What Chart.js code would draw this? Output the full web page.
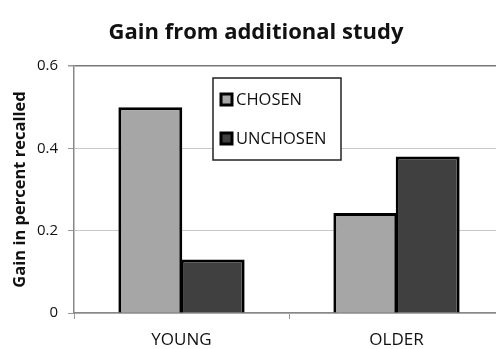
<!DOCTYPE html>
<html><head><meta charset="utf-8">
<script src="https://cdn.jsdelivr.net/npm/chart.js@4/dist/chart.umd.min.js"></script>
<style>html,body{margin:0;padding:0;background:#fff;overflow:hidden;width:496px;height:349px}#wrap{width:504px;height:349px}</style>
</head><body><div id="wrap"><canvas id="c" width="504" height="349"></canvas></div>
<script>
const categories = ["YOUNG", "OLDER"];
const chosenValues = [0.50, 0.243];
const unchosenValues = [0.13, 0.38];
const seriesNames = ["CHOSEN", "UNCHOSEN"];
const yTicks = [0, 0.2, 0.4, 0.6];
const titleText = "Gain from additional study";
const yTitle = "Gain in percent recalled";

const FONT = "'Open Sans', 'Liberation Sans', sans-serif";

const legendBox = {
  id: 'legendBox',
  afterDatasetsDraw(chart) {
    const ctx = chart.ctx;
    const x0 = 213, y0 = 78, w = 128, h = 82;
    ctx.save();
    ctx.fillStyle = '#fff';
    ctx.fillRect(x0, y0, w, h);
    ctx.strokeStyle = '#222';
    ctx.lineWidth = 1.5;
    ctx.strokeRect(x0, y0, w, h);
    chart.data.datasets.forEach((ds, i) => {
      const cy = y0 + 21 + i * 39;
      ctx.fillStyle = ds.backgroundColor;
      ctx.fillRect(x0 + 8, cy - 5, 11, 11);
      ctx.strokeStyle = '#000';
      ctx.lineWidth = 3;
      ctx.strokeRect(x0 + 8, cy - 5, 11, 11);
      ctx.fillStyle = '#111';
      ctx.font = "16.5px " + FONT;
      ctx.textBaseline = 'middle';
      ctx.textAlign = 'left';
      ctx.fillText(ds.label, x0 + 23, cy + 1);
    });
    ctx.restore();
  }
};

new Chart(document.getElementById('c'), {
  type: 'bar',
  data: {
    labels: categories,
    datasets: [
      { label: seriesNames[0], data: chosenValues, backgroundColor: '#a6a6a6', borderColor: '#000', borderWidth: 3, borderSkipped: 'bottom' },
      { label: seriesNames[1], data: unchosenValues, backgroundColor: '#404040', borderColor: '#000', borderWidth: 3, borderSkipped: 'bottom' }
    ]
  },
  options: {
    responsive: false,
    animation: false,
    layout: { padding: { left: 8, right: 0, top: 0, bottom: 0 } },
    datasets: { bar: { categoryPercentage: 0.58, barPercentage: 1.025 } },
    plugins: {
      legend: { display: false },
      tooltip: { enabled: false },
      title: {
        display: true, text: titleText, color: '#111',
        font: { family: FONT, size: 22, weight: 'bold' },
        padding: { top: 20, bottom: 19.6 }
      }
    },
    scales: {
      x: {
        offset: true,
        grid: { display: true, drawOnChartArea: false, drawTicks: true, tickLength: 6, offset: true, color: '#999' },
        border: { display: true, color: '#888', width: 1.5 },
        ticks: { color: '#111', font: { family: FONT, size: 17 }, padding: 11 },
        afterFit(s) { s.height = 36; }
      },
      y: {
        min: 0, max: 0.6,
        afterBuildTicks(s) { s.ticks = yTicks.map(v => ({ value: v })); },
        grid: {
          color: (c) => (c.tick && c.tick.value === 0.6) ? '#777' : '#c8c8c8',
          lineWidth: (c) => (c.tick && c.tick.value === 0.6) ? 1.5 : 1,
          tickLength: 6, tickColor: '#999'
        },
        border: { display: true, color: '#888', width: 1.5 },
        ticks: { color: '#111', font: { family: FONT, size: 15 }, padding: 10, callback: (v) => String(v) },
        title: {
          display: true, text: yTitle, color: '#111',
          font: { family: FONT, size: 16.5, weight: 'bold' },
          padding: { top: 2, bottom: 2 }
        },
        afterFit(s) { s.width = 66; }
      }
    }
  },
  plugins: [legendBox]
});
</script>
</body></html>
